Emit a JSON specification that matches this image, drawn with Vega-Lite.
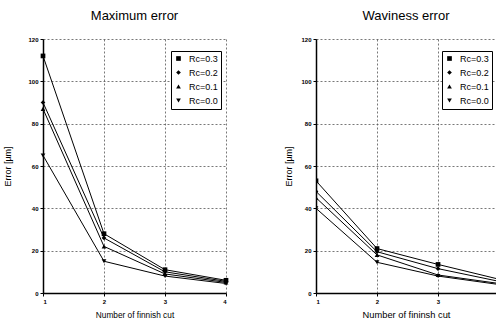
{
  "$schema": "https://vega.github.io/schema/vega-lite/v6.json",
  "background": "white",
  "padding": {"left": 3, "top": 10, "right": 0, "bottom": 0},
  "spacing": 55,
  "config": {
    "font": "Liberation Sans",
    "view": {"stroke": null},
    "title": {"fontSize": 13, "fontWeight": "normal", "color": "black", "offset": 13},
    "axis": {
      "domainColor": "black", "domainWidth": 1.5, "tickColor": "black", "tickSize": 3,
      "labelFontSize": 6, "labelFontWeight": "bold", "labelColor": "black", "labelPadding": 2,
      "titleFontSize": 9, "titleFontWeight": "normal", "titleColor": "black",
      "gridColor": "#555", "gridDash": [2, 2], "gridWidth": 0.8
    },
    "legend": {
      "labelFontSize": 9, "labelColor": "black", "strokeColor": "black", "fillColor": "white",
      "padding": 3, "rowPadding": 3, "symbolSize": 22, "labelOffset": 6, "symbolFillColor": "black", "symbolStrokeColor": "black"
    }
  },
  "datasets": {
    "maxerr": [
      {"cut": 1, "series": "Rc=0.3", "err": 112},
      {"cut": 2, "series": "Rc=0.3", "err": 28},
      {"cut": 3, "series": "Rc=0.3", "err": 11},
      {"cut": 4, "series": "Rc=0.3", "err": 6},
      {"cut": 1, "series": "Rc=0.2", "err": 90},
      {"cut": 2, "series": "Rc=0.2", "err": 26},
      {"cut": 3, "series": "Rc=0.2", "err": 10},
      {"cut": 4, "series": "Rc=0.2", "err": 5.5},
      {"cut": 1, "series": "Rc=0.1", "err": 87},
      {"cut": 2, "series": "Rc=0.1", "err": 22},
      {"cut": 3, "series": "Rc=0.1", "err": 9},
      {"cut": 4, "series": "Rc=0.1", "err": 5},
      {"cut": 1, "series": "Rc=0.0", "err": 65},
      {"cut": 2, "series": "Rc=0.0", "err": 15},
      {"cut": 3, "series": "Rc=0.0", "err": 8},
      {"cut": 4, "series": "Rc=0.0", "err": 4.5}
    ],
    "waverr": [
      {"cut": 1, "series": "Rc=0.3", "err": 53},
      {"cut": 2, "series": "Rc=0.3", "err": 21},
      {"cut": 3, "series": "Rc=0.3", "err": 13.5},
      {"cut": 4, "series": "Rc=0.3", "err": 6.5},
      {"cut": 1, "series": "Rc=0.2", "err": 48},
      {"cut": 2, "series": "Rc=0.2", "err": 19.5},
      {"cut": 3, "series": "Rc=0.2", "err": 11.5},
      {"cut": 4, "series": "Rc=0.2", "err": 5.5},
      {"cut": 1, "series": "Rc=0.1", "err": 45},
      {"cut": 2, "series": "Rc=0.1", "err": 18},
      {"cut": 3, "series": "Rc=0.1", "err": 8.5},
      {"cut": 4, "series": "Rc=0.1", "err": 4.5},
      {"cut": 1, "series": "Rc=0.0", "err": 40},
      {"cut": 2, "series": "Rc=0.0", "err": 14.5},
      {"cut": 3, "series": "Rc=0.0", "err": 8},
      {"cut": 4, "series": "Rc=0.0", "err": 4}
    ]
  },
  "resolve": {"scale": {"shape": "independent"}, "legend": {"shape": "independent"}},
  "hconcat": [
    {
      "title": "Maximum error",
      "width": 183,
      "height": 254,
      "data": {"name": "maxerr"},
      "encoding": {
        "x": {"field": "cut", "type": "quantitative", "scale": {"domain": [1, 4], "nice": false},
              "axis": {"values": [1, 2, 3, 4], "title": "Number of finnish cut", "titlePadding": 6, "titleFontSize": 8.3}},
        "y": {"field": "err", "type": "quantitative", "scale": {"domain": [0, 120], "nice": false},
              "axis": {"values": [0, 20, 40, 60, 80, 100, 120], "title": "Error [µm]", "titlePadding": 15}}
      },
      "layer": [
        {"mark": {"type": "line", "color": "black", "strokeWidth": 1}, "encoding": {"detail": {"field": "series"}}},
        {"mark": {"type": "point", "filled": true, "color": "black", "size": 22, "opacity": 1},
         "encoding": {"shape": {"field": "series", "type": "nominal",
           "scale": {"domain": ["Rc=0.3", "Rc=0.2", "Rc=0.1", "Rc=0.0"], "range": ["square", "diamond", "triangle-up", "triangle-down"]},
           "legend": {"title": null, "orient": "none", "legendX": 128, "legendY": 12}}}}
      ]
    },
    {
      "title": "Waviness error",
      "width": 180,
      "height": 254,
      "data": {"name": "waverr"},
      "encoding": {
        "x": {"field": "cut", "type": "quantitative", "scale": {"domain": [1, 3.95], "nice": false},
              "axis": {"values": [1, 2, 3], "title": "Number of fininsh cut", "titlePadding": 6, "titleFontSize": 9.3}},
        "y": {"field": "err", "type": "quantitative", "scale": {"domain": [0, 120], "nice": false},
              "axis": {"values": [0, 20, 40, 60, 80, 100, 120], "title": "Error [µm]", "titlePadding": 7}}
      },
      "layer": [
        {"mark": {"type": "line", "color": "black", "strokeWidth": 1, "clip": true}, "encoding": {"detail": {"field": "series"}}},
        {"mark": {"type": "point", "filled": true, "color": "black", "size": 22, "opacity": 1, "clip": true},
         "encoding": {"shape": {"field": "series", "type": "nominal",
           "scale": {"domain": ["Rc=0.3", "Rc=0.2", "Rc=0.1", "Rc=0.0"], "range": ["square", "diamond", "triangle-up", "triangle-down"]},
           "legend": {"title": null, "orient": "none", "legendX": 126, "legendY": 12}}}}
      ]
    }
  ]
}
